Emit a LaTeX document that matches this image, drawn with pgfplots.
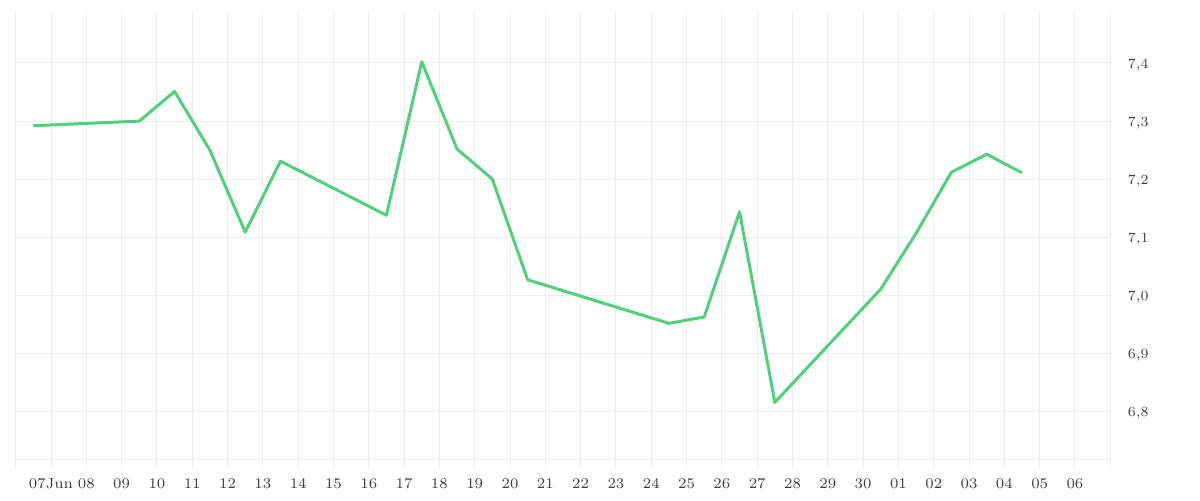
\documentclass[border=0pt]{standalone}
\usepackage{pgfplots}
\pgfplotsset{compat=1.18}
\definecolor{linegreen}{RGB}{78,209,122}
\definecolor{gridgray}{RGB}{236,236,236}
\definecolor{labelgray}{RGB}{60,60,60}
\begin{document}
\begin{tikzpicture}
\useasboundingbox (-7.85pt,-20.5pt) rectangle (592.15pt,229.5pt);
\begin{axis}[
  at={(0,0)}, anchor=south west,
  scale only axis,
  width=547.3pt, height=223.35pt,
  xmin=0, xmax=31,
  ymin=6.7186, ymax=7.4872,
  axis x line*=bottom,
  axis y line*=right,
  separate axis lines,
  x axis line style={draw=gridgray, line width=0.5pt, -},
  y axis line style={draw=gridgray, line width=0.5pt, -},
  xtick={0,1,...,31},
  xticklabels={,07Jun,08,09,10,11,12,13,14,15,16,17,18,19,20,21,22,23,24,25,26,27,28,29,30,01,02,03,04,05,06,},
  ytick={6.8,6.9,7.0,7.1,7.2,7.3,7.4},
  yticklabel pos=right,
  /pgf/number format/.cd, use comma, fixed, fixed zerofill, precision=1,
  /pgfplots/.cd,
  grid=major,
  major grid style={draw=gridgray, line width=0.5pt},
  tick align=outside,
  xtick style={draw=gridgray, line width=0.5pt},
  major tick length=4.5pt,
  ytick style={draw=none},
  ticklabel style={font=\fontsize{7.4}{8}\selectfont, text=labelgray},
  xticklabel style={anchor=base, yshift=-10pt},
  yticklabel style={anchor=west, xshift=0.8pt, yshift=-1pt},
  clip=false,
]
\addplot[linegreen, line width=1.5pt, line join=round] coordinates {
  (0.5,7.292) (3.5,7.300) (4.5,7.351) (5.5,7.250) (6.5,7.109) (7.5,7.231)
  (10.5,7.138) (11.5,7.402) (12.5,7.252) (13.5,7.200) (14.5,7.027)
  (18.5,6.952) (19.5,6.963) (20.5,7.144) (21.5,6.816)
  (24.5,7.011) (25.5,7.107) (26.5,7.212) (27.5,7.243) (28.5,7.211)
};
\end{axis}
\end{tikzpicture}
\end{document}
